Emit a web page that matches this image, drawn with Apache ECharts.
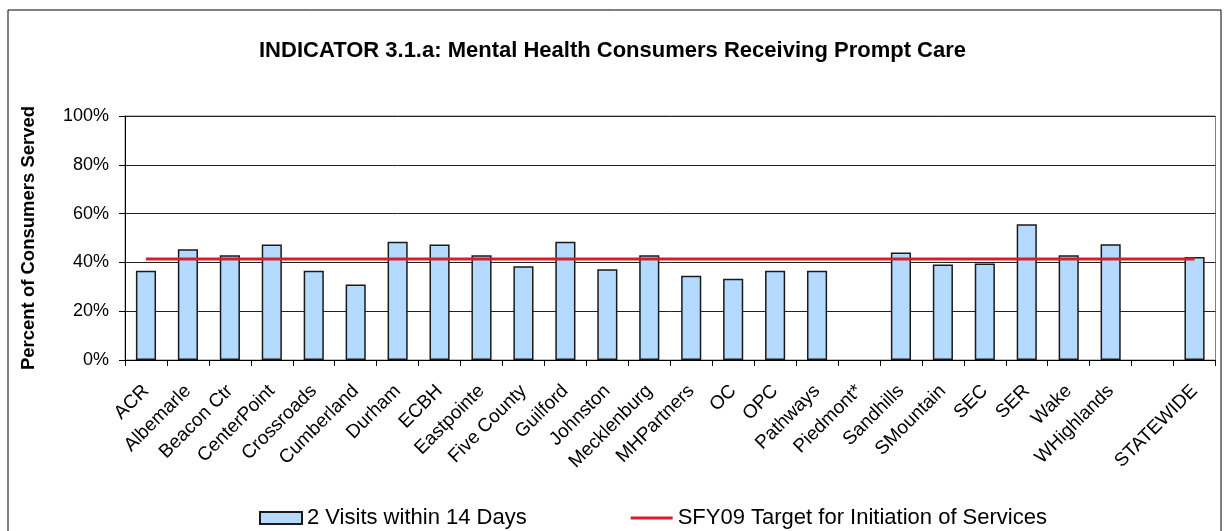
<!DOCTYPE html>
<html>
<head>
<meta charset="utf-8">
<script src="https://cdn.jsdelivr.net/npm/echarts@6/dist/echarts.min.js"></script>
<style>
  html, body { margin: 0; padding: 0; background: #fff; }
  #chart { width: 1225px; height: 531px; }
</style>
</head>
<body>
<div id="chart"></div>
<script>
// categories along the x axis (one empty slot before STATEWIDE)
const categories = ['ACR', 'Albemarle', 'Beacon Ctr', 'CenterPoint', 'Crossroads', 'Cumberland',
  'Durham', 'ECBH', 'Eastpointe', 'Five County', 'Guilford', 'Johnston', 'Mecklenburg',
  'MHPartners', 'OC', 'OPC', 'Pathways', 'Piedmont*', 'Sandhills', 'SMountain', 'SEC',
  'SER', 'Wake', 'WHighlands', '', 'STATEWIDE']

// 2 visits within 14 days (share of consumers)
const visits = [0.366, 0.454, 0.429, 0.473, 0.366, 0.309, 0.485, 0.473, 0.429, 0.384,
  0.485, 0.372, 0.429, 0.345, 0.333, 0.366, 0.366, null, 0.441, 0.391, 0.396,
  0.556, 0.429, 0.474, null, 0.422]

// SFY09 target
const target = 0.414
const targetLine = categories.map(() => target)

const yTicks = [0, 0.2, 0.4, 0.6, 0.8, 1]

const font = 'Arial, "Liberation Sans", sans-serif'

const chart = echarts.init(document.getElementById('chart'))
chart.setOption({
  animation: false,
  textStyle: { fontFamily: font, color: '#000' },
  graphic: [{
    type: 'rect',
    shape: { x: 8, y: 10, width: 1213, height: 530 },
    style: { fill: 'none', stroke: '#000', lineWidth: 1 }
  }],
  title: {
    text: 'INDICATOR 3.1.a: Mental Health Consumers Receiving Prompt Care',
    left: 'center',
    top: 35,
    textStyle: { fontFamily: font, fontSize: 22, fontWeight: 'bold', color: '#000' }
  },
  legend: {
    left: 254,
    top: 502,
    itemGap: 104,
    itemWidth: 42,
    itemHeight: 12,
    textStyle: { fontFamily: font, fontSize: 22, color: '#000' },
    data: [
      { name: '2 Visits within 14 Days', icon: 'rect' },
      { name: 'SFY09 Target for Initiation of Services', icon: 'path://M0,0H42V3H0Z' }
    ]
  },
  grid: {
    left: 125,
    right: 9.5,
    top: 116,
    bottom: 171,
    show: true,
    borderColor: '#808080',
    borderWidth: 1
  },
  xAxis: {
    type: 'category',
    data: categories,
    boundaryGap: true,
    axisLine: { lineStyle: { color: '#000', width: 1 } },
    axisTick: { show: true, interval: 0, length: 6, lineStyle: { color: '#000' } },
    axisLabel: {
      interval: 0,
      rotate: 45,
      margin: 28,
      fontFamily: font,
      fontSize: 19,
      color: '#000'
    }
  },
  yAxis: {
    type: 'value',
    min: yTicks[0],
    max: yTicks[yTicks.length - 1],
    interval: 0.2,
    name: 'Percent of Consumers Served',
    nameLocation: 'middle',
    nameGap: 87,
    nameTextStyle: { fontFamily: font, fontSize: 18.5, fontWeight: 'bold', color: '#000' },
    axisLine: { show: true, lineStyle: { color: '#000', width: 1 } },
    axisTick: { show: true, length: 6, lineStyle: { color: '#000' } },
    axisLabel: {
      margin: 16,
      fontFamily: font,
      fontSize: 18,
      color: '#000',
      formatter: v => Math.round(v * 100) + '%'
    },
    splitLine: { show: true, lineStyle: { color: '#222', width: 1 } }
  },
  series: [{
    name: '2 Visits within 14 Days',
    type: 'bar',
    data: visits,
    barWidth: '48%',
    itemStyle: { color: '#b4daff', borderColor: '#1a1a1a', borderWidth: 1.5 }
  }, {
    name: 'SFY09 Target for Initiation of Services',
    type: 'line',
    data: targetLine,
    showSymbol: false,
    symbol: 'none',
    lineStyle: { color: '#d81e2c', width: 3 },
    itemStyle: { color: '#d81e2c' },
    z: 5
  }]
})
</script>
</body>
</html>
